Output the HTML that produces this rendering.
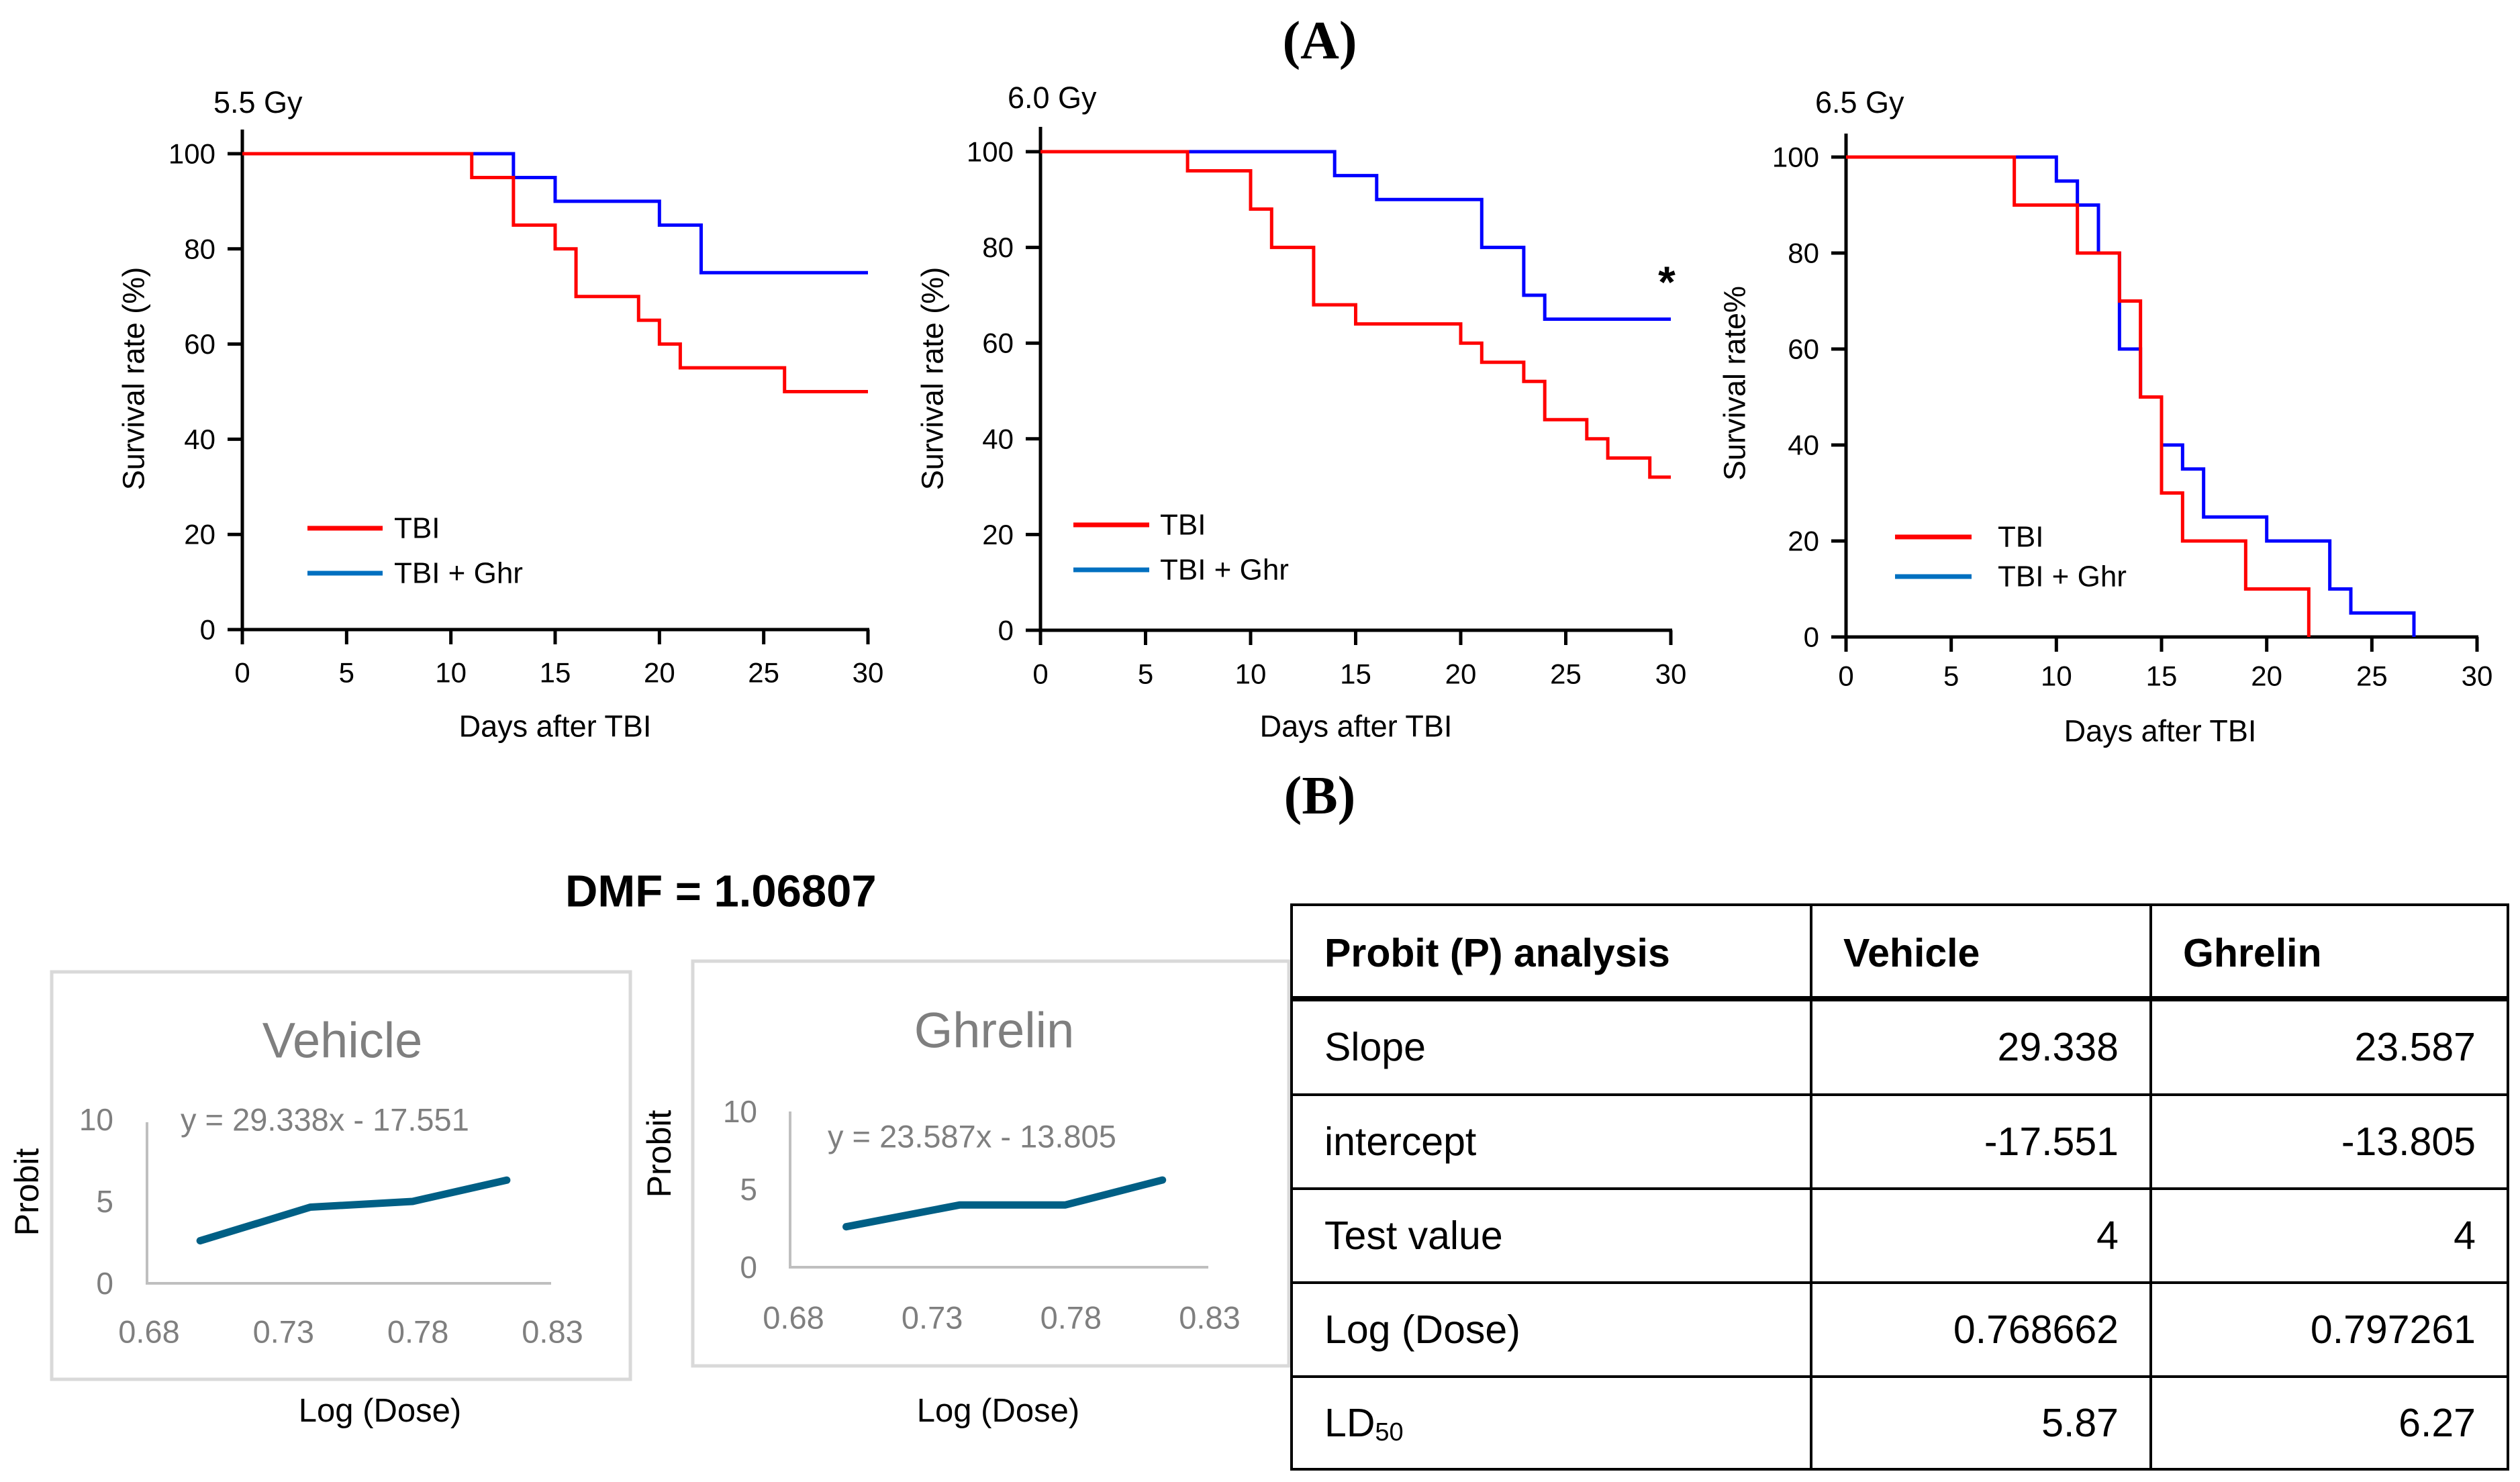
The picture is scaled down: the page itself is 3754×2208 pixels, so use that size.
<!DOCTYPE html>
<html>
<head>
<meta charset="utf-8">
<style>
html,body{margin:0;padding:0;background:#fff;}
svg{display:block;}
text{font-family:"Liberation Sans",Arial,sans-serif;}
text.serif{font-family:"Liberation Serif","Times New Roman",serif;}
</style>
</head>
<body>
<svg id="fig" width="3754" height="2208" viewBox="0 0 3754 2208" xmlns="http://www.w3.org/2000/svg">
  <text class="serif" x="1966" y="61" text-anchor="middle" dominant-baseline="central" font-weight="bold" font-size="80">(A)</text>
  <text class="serif" x="1966" y="1186" text-anchor="middle" dominant-baseline="central" font-weight="bold" font-size="80">(B)</text>
  <text x="842" y="1328" dominant-baseline="central" font-weight="bold" font-size="67">DMF = 1.06807</text>
  <g id="charts"></g>

  <!-- Table -->
  <g font-size="59">
    <rect x="1924" y="1348" width="1812" height="841" fill="none" stroke="#000" stroke-width="4"/>
    <line x1="2698" y1="1348" x2="2698" y2="2189" stroke="#000" stroke-width="4"/>
    <line x1="3204" y1="1348" x2="3204" y2="2189" stroke="#000" stroke-width="4"/>
    <line x1="1924" y1="1488" x2="3736" y2="1488" stroke="#000" stroke-width="8"/>
    <line x1="1924" y1="1631" x2="3736" y2="1631" stroke="#000" stroke-width="4"/>
    <line x1="1924" y1="1771" x2="3736" y2="1771" stroke="#000" stroke-width="4"/>
    <line x1="1924" y1="1911" x2="3736" y2="1911" stroke="#000" stroke-width="4"/>
    <line x1="1924" y1="2051" x2="3736" y2="2051" stroke="#000" stroke-width="4"/>
    <g font-weight="bold">
      <text x="1973" y="1420" dominant-baseline="central">Probit (P) analysis</text>
      <text x="2746" y="1420" dominant-baseline="central">Vehicle</text>
      <text x="3252" y="1420" dominant-baseline="central">Ghrelin</text>
    </g>
    <g>
      <text x="1973" y="1560" dominant-baseline="central">Slope</text>
      <text x="3156" y="1560" text-anchor="end" dominant-baseline="central">29.338</text>
      <text x="3688" y="1560" text-anchor="end" dominant-baseline="central">23.587</text>
    </g>
    <g>
      <text x="1973" y="1701" dominant-baseline="central">intercept</text>
      <text x="3156" y="1701" text-anchor="end" dominant-baseline="central">-17.551</text>
      <text x="3688" y="1701" text-anchor="end" dominant-baseline="central">-13.805</text>
    </g>
    <g>
      <text x="1973" y="1841" dominant-baseline="central">Test value</text>
      <text x="3156" y="1841" text-anchor="end" dominant-baseline="central">4</text>
      <text x="3688" y="1841" text-anchor="end" dominant-baseline="central">4</text>
    </g>
    <g>
      <text x="1973" y="1981" dominant-baseline="central">Log (Dose)</text>
      <text x="3156" y="1981" text-anchor="end" dominant-baseline="central">0.768662</text>
      <text x="3688" y="1981" text-anchor="end" dominant-baseline="central">0.797261</text>
    </g>
    <g>
      <text x="1973" y="2120" dominant-baseline="central">LD<tspan font-size="38" dy="14">50</tspan></text>
      <text x="3156" y="2120" text-anchor="end" dominant-baseline="central">5.87</text>
      <text x="3688" y="2120" text-anchor="end" dominant-baseline="central">6.27</text>
    </g>
  </g>
</svg>
<script>
// ---- Survival data ----
const xTicks = [0, 5, 10, 15, 20, 25, 30];
const yTicks = [0, 20, 40, 60, 80, 100];
const c1TbiDays = [0, 11, 13, 15, 16, 19, 20, 21, 26];
const c1TbiSurv = [100, 95, 85, 80, 70, 65, 60, 55, 50];
const c1GhrDays = [0, 13, 15, 20, 22];
const c1GhrSurv = [100, 95, 90, 85, 75];
const c2TbiDays = [0, 7, 10, 11, 13, 15, 20, 21, 23, 24, 26, 27, 29];
const c2TbiSurv = [100, 96, 88, 80, 68, 64, 60, 56, 52, 44, 40, 36, 32];
const c2GhrDays = [0, 14, 16, 21, 23, 24];
const c2GhrSurv = [100, 95, 90, 80, 70, 65];
const c3TbiDays = [0, 8, 11, 13, 14, 15, 16, 19, 22];
const c3TbiSurv = [100, 90, 80, 70, 50, 30, 20, 10, 0];
const c3GhrDays = [0, 10, 11, 12, 13, 14, 15, 16, 17, 20, 23, 24, 27];
const c3GhrSurv = [100, 95, 90, 80, 60, 50, 40, 35, 25, 20, 10, 5, 0];
const seriesEnd = [30, 30, 30, 30, 22, 27];
// ---- Probit data ----
const probitXTicks = [0.68, 0.73, 0.78, 0.83];
const probitYTicks = [0, 5, 10];
const vehLogDose = [0.699, 0.740, 0.778, 0.813];
const vehProbit = [2.6, 4.65, 5.0, 6.3];
const ghrLogDose = [0.699, 0.740, 0.778, 0.813];
const ghrProbit = [2.6, 4.0, 4.0, 5.6];

const NS = 'http://www.w3.org/2000/svg';
const root = document.getElementById('charts');
function mk(tag, attrs, parent, txt) {
  const e = document.createElementNS(NS, tag);
  for (const k in attrs) e.setAttribute(k, attrs[k]);
  if (txt !== undefined) e.textContent = txt;
  parent.appendChild(e);
  return e;
}

const panels = [
  {name:'5.5', title:'5.5 Gy', tx:318, ty:168, x0:361, x1:1293, y0:938, y1:229, top:193, ytitle:'Survival rate (%)', ytx:199, yty:564, xty:1082, xtx:827, tickY:1002,
   lx0:458, lx1:570, ly1:787, ly2:854, ltx:587, tbiD:c1TbiDays, tbiS:c1TbiSurv, ghrD:c1GhrDays, ghrS:c1GhrSurv, e1:seriesEnd[0], e2:seriesEnd[1]},
  {name:'6.0', title:'6.0 Gy', tx:1501, ty:161, x0:1550, x1:2489, y0:939, y1:226, top:189, ytitle:'Survival rate (%)', ytx:1389, yty:564, xty:1082, xtx:2020, tickY:1004,
   lx0:1599, lx1:1712, ly1:782, ly2:849, ltx:1728, tbiD:c2TbiDays, tbiS:c2TbiSurv, ghrD:c2GhrDays, ghrS:c2GhrSurv, e1:seriesEnd[2], e2:seriesEnd[3]},
  {name:'6.5', title:'6.5 Gy', tx:2704, ty:168, x0:2750, x1:3690, y0:949, y1:234, top:199, ytitle:'Survival rate%', ytx:2584, yty:571, xty:1089, xtx:3218, tickY:1007,
   lx0:2823, lx1:2937, ly1:800, ly2:859, ltx:2976, tbiD:c3TbiDays, tbiS:c3TbiSurv, ghrD:c3GhrDays, ghrS:c3GhrSurv, e1:seriesEnd[4], e2:seriesEnd[5]}
];

panels.forEach(p => {
  const g = mk('g', {}, root);
  
  
  const sx = d => p.x0 + (d / 30) * (p.x1 - p.x0);
  const sy = v => p.y0 - (v / 100) * (p.y0 - p.y1);
  const t = mk('text', {x:p.tx, y:p.ty, 'font-size':45}, g, p.title);
  
  
  const ya = mk('line', {x1:p.x0, y1:p.top, x2:p.x0, y2:p.y0 + 2, stroke:'#000', 'stroke-width':5}, g);
  
  
  const xa = mk('line', {x1:p.x0 - 22, y1:p.y0, x2:p.x1 + 2, y2:p.y0, stroke:'#000', 'stroke-width':5}, g);
  
  
  yTicks.forEach(v => {
    mk('line', {x1:p.x0 - 22, y1:sy(v), x2:p.x0, y2:sy(v), stroke:'#000', 'stroke-width':5}, g);
    const l = mk('text', {x:p.x0 - 40, y:sy(v), 'text-anchor':'end', 'dominant-baseline':'central', 'font-size':42}, g, String(v));
    
    
  });
  xTicks.forEach(v => {
    mk('line', {x1:sx(v), y1:p.y0, x2:sx(v), y2:p.y0 + 22, stroke:'#000', 'stroke-width':5}, g);
    const l = mk('text', {x:sx(v), y:p.tickY, 'text-anchor':'middle', 'dominant-baseline':'central', 'font-size':42}, g, String(v));
    
    
  });
  const xt = mk('text', {x:p.xtx, y:p.xty, 'text-anchor':'middle', 'dominant-baseline':'central', 'font-size':45}, g, 'Days after TBI');
  
  
  const yt = mk('text', {x:p.ytx, y:p.yty, 'text-anchor':'middle', 'dominant-baseline':'central', 'font-size':45, transform:'rotate(-90 ' + p.ytx + ' ' + p.yty + ')'}, g, p.ytitle);
  
  
  function step(days, surv, end) {
    let d = 'M' + sx(days[0]) + ' ' + sy(surv[0]);
    for (let i = 1; i < days.length; i++) {
      d += ' H' + sx(days[i]) + ' V' + sy(surv[i]);
    }
    if (end > days[days.length - 1]) d += ' H' + sx(end);
    return d;
  }
  const gb = mk('path', {d:step(p.ghrD, p.ghrS, p.e2), fill:'none', stroke:'#0000ff', 'stroke-width':5}, g);
  
  
  const rb = mk('path', {d:step(p.tbiD, p.tbiS, p.e1), fill:'none', stroke:'#ff0000', 'stroke-width':5}, g);
  
  
  const lg = mk('g', {}, g);
  
  
  mk('line', {x1:p.lx0, y1:p.ly1, x2:p.lx1, y2:p.ly1, stroke:'#ff0000', 'stroke-width':7}, lg);
  mk('text', {x:p.ltx, y:p.ly1, 'dominant-baseline':'central', 'font-size':44}, lg, 'TBI');
  mk('line', {x1:p.lx0, y1:p.ly2, x2:p.lx1, y2:p.ly2, stroke:'#0070c0', 'stroke-width':7}, lg);
  mk('text', {x:p.ltx, y:p.ly2, 'dominant-baseline':'central', 'font-size':44}, lg, 'TBI + Ghr');
  if (p.name === '6.0') {
    const a = mk('text', {x:2483, y:420, 'text-anchor':'middle', 'dominant-baseline':'central', 'font-size':66, 'font-weight':'bold'}, g, '*');
    
    
  }
});

const probitPanels = [
  {name:'vehicle', title:'Vehicle', bx:77, by:1448, bw:862, bh:607, tcx:510, tcy:1550, ax:219, ay0:1912, ay10:1668, atop:1672, x68:222, x83:823, axEnd:821,
   eq:'y = 29.338x - 17.551', eqx:269, eqy:1668, tickY:1984, ylx:169, px:40, py:1776, lx:566, ly:2102, xs:vehLogDose, ys:vehProbit},
  {name:'ghrelin', title:'Ghrelin', bx:1032, by:1432, bw:888, bh:603, tcx:1481, tcy:1535, ax:1177, ay0:1888, ay10:1656, atop:1656, x68:1182, x83:1802, axEnd:1800,
   eq:'y = 23.587x - 13.805', eqx:1233, eqy:1693, tickY:1963, ylx:1128, px:982, py:1719, lx:1487, ly:2102, xs:ghrLogDose, ys:ghrProbit}
];
probitPanels.forEach(p => {
  const g = mk('g', {}, root);
  
  
  const sx = v => p.x68 + (v - 0.68) / 0.15 * (p.x83 - p.x68);
  const sy = v => p.ay0 - v / 10 * (p.ay0 - p.ay10);
  mk('rect', {x:p.bx, y:p.by, width:p.bw, height:p.bh, fill:'#fff', stroke:'#d9d9d9', 'stroke-width':5}, g);
  const t = mk('text', {x:p.tcx, y:p.tcy, 'text-anchor':'middle', 'dominant-baseline':'central', 'font-size':74, fill:'#7f7f7f'}, g, p.title);
  
  
  mk('line', {x1:p.ax, y1:p.atop, x2:p.ax, y2:p.ay0 + 2, stroke:'#bfbfbf', 'stroke-width':4}, g);
  mk('line', {x1:p.ax - 2, y1:p.ay0, x2:p.axEnd, y2:p.ay0, stroke:'#bfbfbf', 'stroke-width':4}, g);
  probitYTicks.forEach(v => {
    const l = mk('text', {x:p.ylx, y:sy(v), 'text-anchor':'end', 'dominant-baseline':'central', 'font-size':46, fill:'#7f7f7f'}, g, String(v));
    
    
  });
  probitXTicks.forEach(v => {
    const l = mk('text', {x:sx(v), y:p.tickY, 'text-anchor':'middle', 'dominant-baseline':'central', 'font-size':47, fill:'#7f7f7f'}, g, v.toFixed(2));
    
    
  });
  const eq = mk('text', {x:p.eqx, y:p.eqy, 'dominant-baseline':'central', 'font-size':47, fill:'#7f7f7f'}, g, p.eq);
  
  
  let d = '';
  p.xs.forEach((v, i) => { d += (i ? ' L' : 'M') + sx(v) + ' ' + sy(p.ys[i]); });
  const ln = mk('path', {d:d, fill:'none', stroke:'#005f85', 'stroke-width':11, 'stroke-linecap':'round', 'stroke-linejoin':'round'}, g);
  
  
  const yl = mk('text', {x:p.px, y:p.py, 'text-anchor':'middle', 'dominant-baseline':'central', 'font-size':50, transform:'rotate(-90 ' + p.px + ' ' + p.py + ')'}, g, 'Probit');
  
  
  const xl = mk('text', {x:p.lx, y:p.ly, 'text-anchor':'middle', 'dominant-baseline':'central', 'font-size':49}, g, 'Log (Dose)');
  
  
});
</script>
</body>
</html>
